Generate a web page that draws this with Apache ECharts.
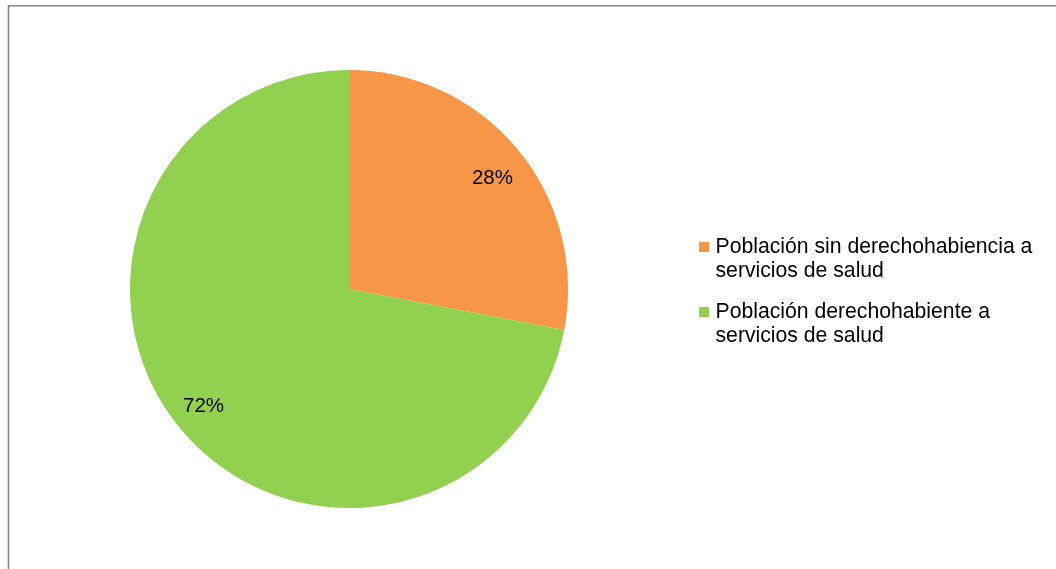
<!DOCTYPE html>
<html>
<head>
<meta charset="utf-8">
<script src="https://cdn.jsdelivr.net/npm/echarts@6/dist/echarts.min.js"></script>
<style>
html,body{margin:0;padding:0;background:#fff;}
#chart{width:1056px;height:569px;}
</style>
</head>
<body>
<div id="chart"></div>
<script>
var categories = ['Población sin derechohabiencia a servicios de salud', 'Población derechohabiente a servicios de salud'];
var legendLabels = ['Población sin derechohabiencia a\nservicios de salud', 'Población derechohabiente a\nservicios de salud'];
var values = [28, 72];
var colors = ['#F79646', '#92D050'];

// label placement nudges (style only)
var labelOffsets = [[-1, 9], [-1, -2]];

var pieData = categories.map(function (c, i) {
  return { name: c, value: values[i], itemStyle: { color: colors[i] } };
});
var legendMap = {};
categories.forEach(function (c, i) { legendMap[c] = legendLabels[i]; });

var chart = echarts.init(document.getElementById('chart'), null, { renderer: 'canvas' });
chart.setOption({
  animation: false,
  backgroundColor: '#ffffff',
  graphic: [{
    type: 'rect',
    shape: { x: 8.5, y: 5.75, width: 1200, height: 700 },
    style: { fill: 'none', stroke: '#868686', lineWidth: 1.6 },
    silent: true,
    z: 100
  }],
  legend: {
    orient: 'vertical',
    left: 699,
    top: 211,
    padding: 0,
    itemWidth: 13,
    itemHeight: 10,
    itemGap: -7,
    icon: 'path://M0,0H10V10H0Z',
    symbolKeepAspect: true,
    selectedMode: false,
    data: categories,
    formatter: function (name) { return '\n' + legendMap[name]; },
    textStyle: {
      fontFamily: 'Liberation Sans, Arial, sans-serif',
      fontSize: 21.2,
      lineHeight: 24,
      color: '#000'
    }
  },
  series: [{
    type: 'pie',
    center: [349, 289],
    radius: [0, 219],
    startAngle: 90,
    clockwise: true,
    silent: true,
    label: { show: false },
    labelLine: { show: false },
    data: pieData
  }, {
    type: 'pie',
    center: [349, 289],
    radius: [150, 219],
    startAngle: 90,
    clockwise: true,
    silent: true,
    itemStyle: { color: 'transparent', borderWidth: 0 },
    label: {
      show: true,
      position: 'inside',
      formatter: '{d}%',
      fontFamily: 'Liberation Sans, Arial, sans-serif',
      fontSize: 20.5,
      color: '#000'
    },
    labelLine: { show: false },
    data: categories.map(function (c, i) {
      return {
        name: c,
        value: values[i],
        itemStyle: { color: 'transparent' },
        label: { offset: labelOffsets[i] }
      };
    })
  }]
});
</script>
</body>
</html>
